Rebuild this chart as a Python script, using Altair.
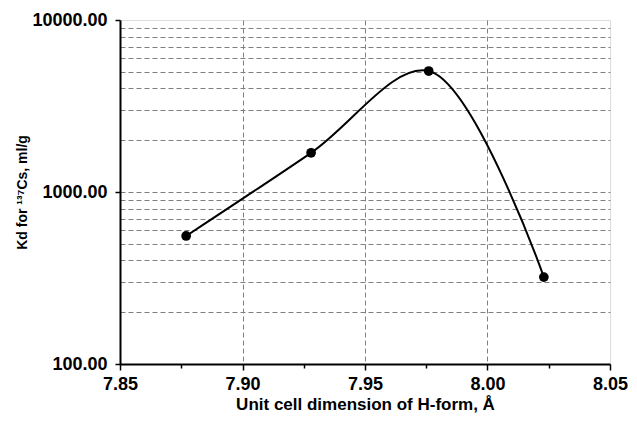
import altair as alt
import pandas as pd

cell_dim = [7.877, 7.928, 7.976, 8.023]
kd = [555, 1690, 5050, 320]

x_ticks = [7.85, 7.875, 7.90, 7.925, 7.95, 7.975, 8.00, 8.025, 8.05]
y_ticks = [100, 200, 300, 400, 500, 600, 700, 800, 900,
           1000, 2000, 3000, 4000, 5000, 6000, 7000, 8000, 9000, 10000]

df = pd.DataFrame({"x": cell_dim, "y": kd})

FONT = "Liberation Sans"
x_major = "abs(datum.value*20 - round(datum.value*20)) < 0.001"
y_major = "datum.value == 100 || datum.value == 1000 || datum.value == 10000"

x_enc = alt.X(
    "x:Q",
    scale=alt.Scale(domain=[7.85, 8.05], nice=False, zero=False),
    axis=alt.Axis(
        values=x_ticks,
        title="Unit cell dimension of H-form, Å",
        labelExpr=f"({x_major}) ? format(datum.value, '.2f') : ''",
        tickSize={"condition": {"test": x_major, "value": 6}, "value": 4},
        gridOpacity={"condition": {"test": f"({x_major}) && datum.value > 7.86 && datum.value < 8.04", "value": 1}, "value": 0},
        grid=True,
        gridDash=[5, 3],
        gridColor="#808080",
        gridWidth=1,
        domainColor="black",
        domainWidth=2,
        tickColor="black",
        tickWidth=1.5,
        labelFont=FONT,
        labelFontSize=18,
        labelFontWeight="bold",
        labelColor="black",
        labelPadding=5,
        titleFont=FONT,
        titleFontSize=17,
        titleFontWeight="bold",
        titleColor="black",
        titlePadding=3,
        labelFlush=False,
    ),
)

y_enc = alt.Y(
    "y:Q",
    scale=alt.Scale(type="log", domain=[100, 10000], nice=False),
    axis=alt.Axis(
        values=y_ticks,
        title="Kd for ¹³⁷Cs, ml/g",
        labelExpr=f"({y_major}) ? format(datum.value, '.2f') : ''",
        tickOpacity={"condition": {"test": y_major, "value": 1}, "value": 0},
        tickSize=5,
        gridOpacity={"condition": {"test": "datum.value == 100 || datum.value == 10000", "value": 0}, "value": 1},
        grid=True,
        gridDash=[5, 3],
        gridColor="#808080",
        gridWidth=1,
        domainColor="black",
        domainWidth=2,
        tickColor="black",
        tickWidth=1.5,
        labelFont=FONT,
        labelFontSize=18,
        labelFontWeight="bold",
        labelColor="black",
        labelPadding=8,
        titleFont=FONT,
        titleFontSize=14,
        titleFontWeight="bold",
        titleColor="black",
        titlePadding=2,
        labelFlush=False,
    ),
)

base = alt.Chart(df)
line = base.mark_line(color="black", strokeWidth=2, interpolate="catmull-rom").encode(x=x_enc, y=y_enc)
pts = base.mark_point(filled=True, color="black", size=95, opacity=1).encode(x="x:Q", y="y:Q")

chart = (
    alt.layer(line, pts)
    .properties(
        width=490,
        height=344,
        autosize=alt.AutoSizeParams(type="none"),
        padding={"left": 112, "top": 12, "right": 18, "bottom": 51},
    )
    .configure_view(stroke="black", strokeWidth=2)
    .configure(background="white")
)

chart.save("out.html", embed_options={"renderer": "svg", "actions": False})
